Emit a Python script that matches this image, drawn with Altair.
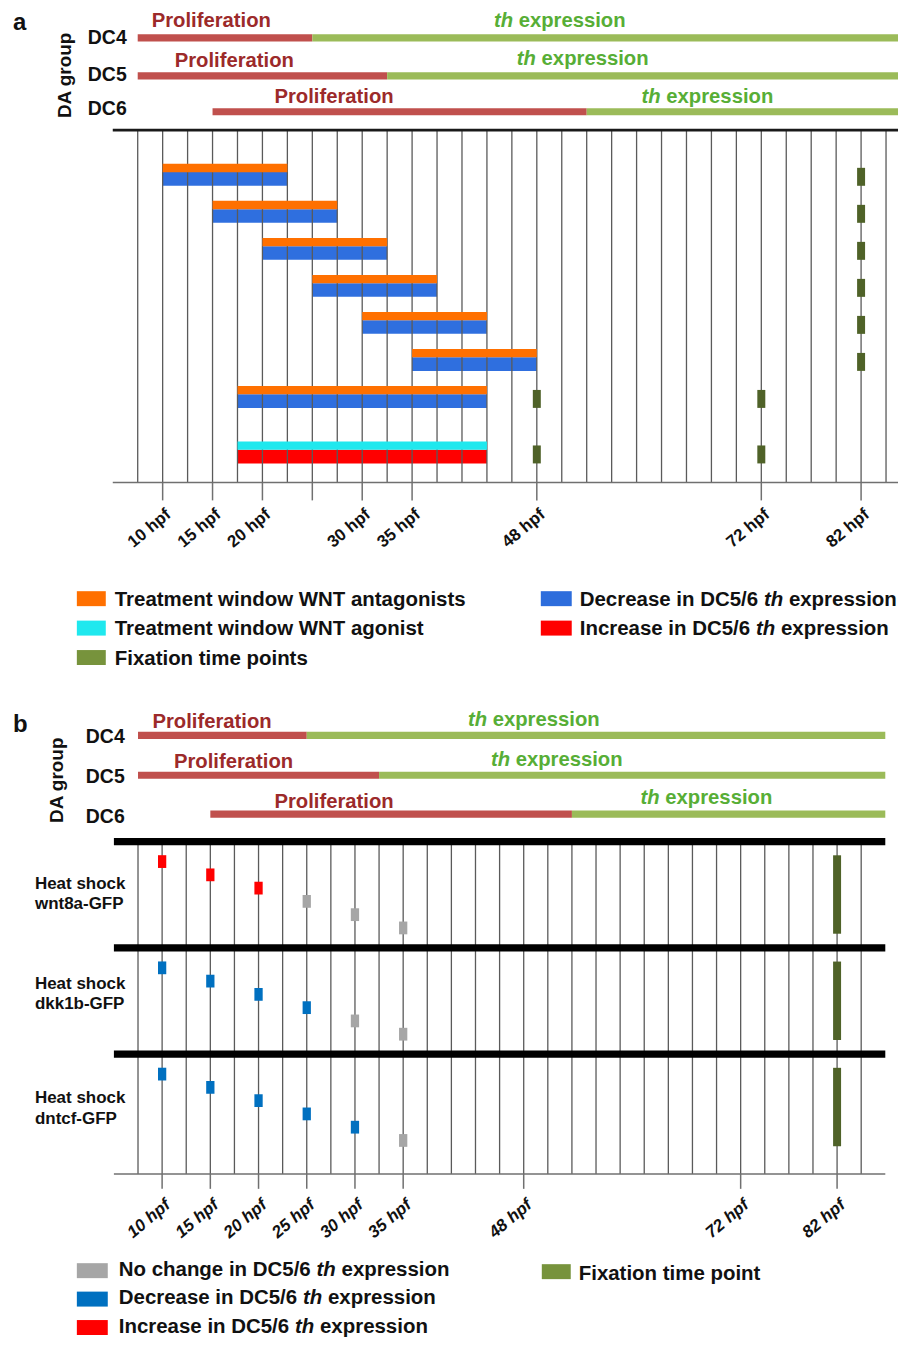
import altair as alt
import pandas as pd

# ------------------------------------------------------------------ data
DC_GROUPS = ["DC4", "DC5", "DC6"]
PROLIF_START = [0, 0, 3]       # grid slot where proliferation starts
PROLIF_END = [7, 10, 18]       # grid slot where th expression starts
EXPR_END = [31, 31, 31]

N_SLOTS = 31
TICK_SLOTS = [1, 3, 5, 7, 9, 11, 16, 25, 29]
TICK_LABELS_A = ["10 hpf", "15 hpf", "20 hpf", "", "30 hpf", "35 hpf", "48 hpf", "72 hpf", "82 hpf"]
TICK_LABELS_B = ["10 hpf", "15 hpf", "20 hpf", "25 hpf", "30 hpf", "35 hpf", "48 hpf", "72 hpf", "82 hpf"]

# panel a : drug treatment windows
TREAT_ROW = [1, 2, 3, 4, 5, 6, 7, 8]
TREAT_START = [1, 3, 5, 7, 9, 11, 4, 4]
TREAT_END = [6, 8, 10, 12, 14, 16, 14, 14]
TREAT_KIND = ["antagonist"] * 7 + ["agonist"]
TREAT_EFFECT = ["decrease"] * 7 + ["increase"]
FIX_A_ROW = [1, 2, 3, 4, 5, 6, 7, 7, 8, 8]
FIX_A_SLOT = [29, 29, 29, 29, 29, 29, 16, 25, 16, 25]

# panel b : heat shocks
HS_LINES = ["wnt8a-GFP", "dkk1b-GFP", "dntcf-GFP"]
HS_SLOTS = [1, 3, 5, 7, 9, 11]
HS_EFFECTS = [
    ["increase", "increase", "increase", "none", "none", "none"],
    ["decrease", "decrease", "decrease", "decrease", "none", "none"],
    ["decrease", "decrease", "decrease", "decrease", "decrease", "none"],
]
FIX_B_SLOT = 29

LEGEND_A_KEYS = ["antagonist", "agonist", "fixation", "decrease", "increase"]
LEGEND_A_LABELS = ["Treatment window WNT antagonists", "Treatment window WNT agonist",
                   "Fixation time points", "Decrease in DC5/6 th expression",
                   "Increase in DC5/6 th expression"]
LEGEND_B_KEYS = ["none", "decrease", "increase", "fixation"]
LEGEND_B_LABELS = ["No change in DC5/6 th expression", "Decrease in DC5/6 th expression",
                   "Increase in DC5/6 th expression", "Fixation time point"]

# ------------------------------------------------------------------ style / layout
FONT = "Liberation Sans"
C = dict(prolif="#c0504d", expr="#9bbb59", prolif_txt="#9c2a2a", expr_txt="#57ae36",
         antagonist="#ff7000", agonist="#1fe8ee", decrease_a="#2f6fdf", increase="#ff0000",
         decrease_b="#0070c0", none="#a6a6a6", fix="#4f6228", fix_leg="#77933c",
         grid="#5a5a5a", axis="#707070", ink="#111111")

PAGE_L, PAGE_R = 8, 900        # page x range covered by the chart
W = PAGE_R - PAGE_L
HA, HB = 690, 640

ARIAL_BOLD_W = {" ": 278, "/": 278, "-": 333, "0": 556, "1": 556, "2": 556, "3": 556, "4": 556,
                "5": 556, "6": 556, "7": 556, "8": 556, "9": 556,
                "a": 556, "b": 611, "c": 556, "d": 611, "e": 556, "f": 333, "g": 611, "h": 611,
                "i": 278, "j": 278, "k": 556, "l": 278, "m": 889, "n": 611, "o": 611, "p": 611,
                "q": 611, "r": 389, "s": 556, "t": 333, "u": 611, "v": 556, "w": 778, "x": 556,
                "y": 556, "z": 500, "A": 722, "C": 722, "D": 722, "F": 611, "G": 778, "H": 722,
                "I": 278, "N": 722, "P": 667, "T": 611, "W": 944}


def text_w(s, size):
    return sum(ARIAL_BOLD_W.get(ch, 580) for ch in s) * size / 1000.0


class Frame:
    """Panel frame: x in grid-slot units, y in pixels from panel top."""

    def __init__(self, top, H, x0, dx):
        self.top, self.H, self.x0, self.dx = top, H, x0, dx
        self.xdom = [self.sx(PAGE_L), self.sx(PAGE_R)]

    def sx(self, px):
        return (px - self.x0) / self.dx

    def sy(self, py):
        return py - self.top

    def X(self):
        return alt.X("x:Q", scale=alt.Scale(domain=self.xdom, nice=False, zero=False), axis=None)

    def Y(self):
        return alt.Y("y:Q", scale=alt.Scale(domain=[0, self.H], nice=False, zero=False, reverse=True),
                     axis=None)

    def rects(self, rows, **kw):
        return alt.Chart(pd.DataFrame(rows)).mark_rect(**kw).encode(
            x=self.X(), x2=alt.X2("x2"), y=self.Y(), y2=alt.Y2("y2"),
            color=alt.Color("c:N", scale=None))

    def vrules(self, rows, **kw):
        return alt.Chart(pd.DataFrame(rows)).mark_rule(**kw).encode(
            x=self.X(), y=self.Y(), y2=alt.Y2("y2"))

    def hrules(self, rows, **kw):
        return alt.Chart(pd.DataFrame(rows)).mark_rule(**kw).encode(
            x=self.X(), x2=alt.X2("x2"), y=self.Y())

    def texts(self, rows, **kw):
        base = dict(font=FONT, fontWeight="bold", align="left", baseline="alphabetic", color=C["ink"])
        base.update(kw)
        return alt.Chart(pd.DataFrame(rows)).mark_text(**base).encode(
            x=self.X(), y=self.Y(), text="t:N")


HDR_FS = 20.3


def header(F, L):
    rows = []
    for i in range(3):
        yc = L["bar_y"][i]
        rows.append(dict(x=PROLIF_START[i], x2=PROLIF_END[i], y=F.sy(yc - 3.6), y2=F.sy(yc + 3.6),
                         c=C["prolif"]))
        rows.append(dict(x=PROLIF_END[i], x2=min(EXPR_END[i], F.xdom[1]), y=F.sy(yc - 3.6),
                         y2=F.sy(yc + 3.6), c=C["expr"]))
    layers = [F.rects(rows)]
    layers.append(F.texts([dict(x=F.sx(L["prolif_x"][i]), y=F.sy(L["prolif_base"][i]), t="Proliferation")
                           for i in range(3)], fontSize=HDR_FS, color=C["prolif_txt"]))
    layers.append(F.texts([dict(x=F.sx(L["expr_x"][i]), y=F.sy(L["expr_base"][i]), t="th")
                           for i in range(3)], fontSize=HDR_FS, color=C["expr_txt"], fontStyle="italic"))
    layers.append(F.texts([dict(x=F.sx(L["expr_x"][i] + text_w("th ", HDR_FS)), y=F.sy(L["expr_base"][i]),
                                t="expression") for i in range(3)], fontSize=HDR_FS, color=C["expr_txt"]))
    layers.append(F.texts([dict(x=F.sx(L["dc_x"]), y=F.sy(L["dc_base"][i]), t=DC_GROUPS[i])
                           for i in range(3)], fontSize=19.5))
    layers.append(F.texts([dict(x=F.sx(L["da_x"]), y=F.sy(L["da_y"]), t="DA group")],
                          fontSize=19, angle=270, align="center"))
    layers.append(F.texts([dict(x=F.sx(L["let_x"]), y=F.sy(L["let_base"]), t=L["letter"])], fontSize=24))
    return layers


def axis_layers(F, labels, y_axis, tick_bot, label_y, italic):
    layers = [F.hrules([dict(x=-1, x2=min(31, F.xdom[1]), y=F.sy(y_axis))], color=C["axis"], strokeWidth=1.5)]
    layers.append(F.vrules([dict(x=s, y=F.sy(y_axis), y2=F.sy(tick_bot)) for s in TICK_SLOTS],
                           color=C["axis"], strokeWidth=1.5))
    rows = [dict(x=s + 6 / F.dx, y=F.sy(label_y), t=lab) for s, lab in zip(TICK_SLOTS, labels) if lab]
    kw = dict(fontSize=17, angle=320, align="right", baseline="middle")
    if italic:
        kw["fontStyle"] = "italic"
    layers.append(F.texts(rows, **kw))
    return layers


def legend(F, keys, labels, cells, colors, sw_x, txt_x, row_y, base_dy, fs=20.5):
    sw, tn, ti = [], [], []
    for k, lab, (col, row) in zip(keys, labels, cells):
        yc = row_y[col][row]
        sw.append(dict(x=F.sx(sw_x[col][0]), x2=F.sx(sw_x[col][1]), y=F.sy(yc - 7.5), y2=F.sy(yc + 7.5),
                       c=colors[k]))
        x0 = txt_x[col]
        yb = F.sy(yc + base_dy[col])
        if " th " in lab:
            pre, post = lab.split(" th ")
            tn.append(dict(x=F.sx(x0), y=yb, t=pre))
            xi = x0 + text_w(pre + " ", fs)
            ti.append(dict(x=F.sx(xi), y=yb, t="th"))
            tn.append(dict(x=F.sx(xi + text_w("th ", fs)), y=yb, t=post))
        else:
            tn.append(dict(x=F.sx(x0), y=yb, t=lab))
    layers = [F.rects(sw), F.texts(tn, fontSize=fs)]
    if ti:
        layers.append(F.texts(ti, fontSize=fs, fontStyle="italic"))
    return layers


# ------------------------------------------------------------------ panel a
FA = Frame(top=8, H=HA, x0=138.0, dx=25.0)
LA = dict(bar_y=[36.5, 74.5, 110.5], prolif_x=[152, 175, 275], prolif_base=[25.7, 65.7, 101.7],
          expr_x=[495, 518, 643], expr_base=[25.5, 64.0, 101.7], dc_x=88, dc_base=[42.3, 79.3, 114.0],
          da_x=71, da_y=74, let_x=13, let_base=29, letter="a")

GRID_A_TOP, GRID_A_BOT = 129, 482


def lane_top(row):
    return 162.7 + 37.1 * (row - 1) + (18.55 if row == 8 else 0)


layers_a = header(FA, LA)
eff_rows, win_rows = [], []
for r, s, e, k, ef in zip(TREAT_ROW, TREAT_START, TREAT_END, TREAT_KIND, TREAT_EFFECT):
    t = lane_top(r)
    eff_rows.append(dict(x=s, x2=e, y=FA.sy(t + 8.3), y2=FA.sy(t + 22),
                         c=C["decrease_a"] if ef == "decrease" else C["increase"]))
    win_rows.append(dict(x=s, x2=e, y=FA.sy(t), y2=FA.sy(t + 8.4), c=C[k]))
layers_a.append(FA.rects(eff_rows))
layers_a.append(FA.vrules([dict(x=s, y=FA.sy(GRID_A_TOP), y2=FA.sy(GRID_A_BOT)) for s in range(N_SLOTS)],
                          color=C["grid"], strokeWidth=1.3))
layers_a.append(FA.rects(win_rows))
fix_rows = [dict(x=s - 4 / FA.dx, x2=s + 4 / FA.dx, y=FA.sy(lane_top(r) + 4), y2=FA.sy(lane_top(r) + 22),
                 c=C["fix"]) for r, s in zip(FIX_A_ROW, FIX_A_SLOT)]
layers_a.append(FA.rects(fix_rows))
layers_a.append(FA.hrules([dict(x=-1, x2=FA.xdom[1], y=FA.sy(GRID_A_TOP))], color="#1a1a1a", strokeWidth=2.7))
layers_a += axis_layers(FA, TICK_LABELS_A, GRID_A_BOT, 500, 512, italic=False)
layers_a += legend(FA, LEGEND_A_KEYS, LEGEND_A_LABELS, [(0, 0), (0, 1), (0, 2), (1, 0), (1, 1)],
                   dict(antagonist=C["antagonist"], agonist=C["agonist"], fixation=C["fix_leg"],
                        decrease="#2d6ddc", increase=C["increase"]),
                   sw_x=[(77, 106), (542, 573)], txt_x=[115, 581],
                   row_y=[[598.5, 628, 657.5], [598.5, 628]], base_dy=[7.4, 7.4])

panel_a = alt.layer(*layers_a).properties(width=W, height=HA)

# ------------------------------------------------------------------ panel b
FB = Frame(top=8 + HA, H=HB, x0=138.3, dx=24.16)
LB = dict(bar_y=[735.5, 775.5, 814.5], prolif_x=[152.7, 174.3, 275], prolif_base=[728.3, 768.3, 808.3],
          expr_x=[469, 492, 642], expr_base=[726.5, 766.5, 804.0], dc_x=86, dc_base=[743.3, 783.3, 823.3],
          da_x=63.5, da_y=780.5, let_x=13, let_base=731.7, letter="b")
GRID_B_TOP, GRID_B_BOT = 842, 1175
BLOCK_STEP = 106.5
HS_LABEL_BASE = [889.3, 989.3, 1104.0]

layers_b = header(FB, LB)
layers_b.append(FB.vrules([dict(x=s, y=FB.sy(GRID_B_TOP), y2=FB.sy(GRID_B_BOT)) for s in range(N_SLOTS)],
                          color=C["grid"], strokeWidth=1.3))
layers_b.append(FB.hrules([dict(x=-1, x2=31, y=FB.sy(GRID_B_TOP + BLOCK_STEP * k)) for k in range(3)],
                          color="#000000", strokeWidth=7.3))
mk_rows, fxb_rows = [], []
ecol = dict(increase=C["increase"], decrease=C["decrease_b"], none=C["none"])
for k, effects in enumerate(HS_EFFECTS):
    L0 = GRID_B_TOP + BLOCK_STEP * k
    for i, (s, ef) in enumerate(zip(HS_SLOTS, effects)):
        yc = L0 + 20 + 13.3 * i
        mk_rows.append(dict(x=s - 4.15 / FB.dx, x2=s + 4.15 / FB.dx, y=FB.sy(yc - 6.4), y2=FB.sy(yc + 6.4),
                            c=ecol[ef]))
    fxb_rows.append(dict(x=FIX_B_SLOT - 4 / FB.dx, x2=FIX_B_SLOT + 4 / FB.dx, y=FB.sy(L0 + 13.7),
                         y2=FB.sy(L0 + 92.3), c=C["fix"]))
layers_b.append(FB.rects(mk_rows))
layers_b.append(FB.rects(fxb_rows))
hs_rows = []
for k, name in enumerate(HS_LINES):
    hs_rows.append(dict(x=FB.sx(35), y=FB.sy(HS_LABEL_BASE[k]), t="Heat shock"))
    hs_rows.append(dict(x=FB.sx(35), y=FB.sy(HS_LABEL_BASE[k] + 20.7), t=name))
layers_b.append(FB.texts(hs_rows, fontSize=17))
layers_b += axis_layers(FB, TICK_LABELS_B, GRID_B_BOT, 1190, 1204, italic=True)
layers_b += legend(FB, LEGEND_B_KEYS, LEGEND_B_LABELS, [(0, 0), (0, 1), (0, 2), (1, 0)],
                   dict(none=C["none"], decrease=C["decrease_b"], increase=C["increase"], fixation=C["fix_leg"]),
                   sw_x=[(77, 108), (543, 572)], txt_x=[119, 580],
                   row_y=[[1272, 1300.5, 1329], [1273]], base_dy=[5.3, 8.3])

panel_b = alt.layer(*layers_b).properties(width=W, height=HB)

chart = alt.vconcat(panel_a, panel_b, spacing=0, bounds="flush", padding=0,
                    background="white").configure_view(stroke=None)

chart.save("out.html", embed_options={"renderer": "svg", "actions": False})
